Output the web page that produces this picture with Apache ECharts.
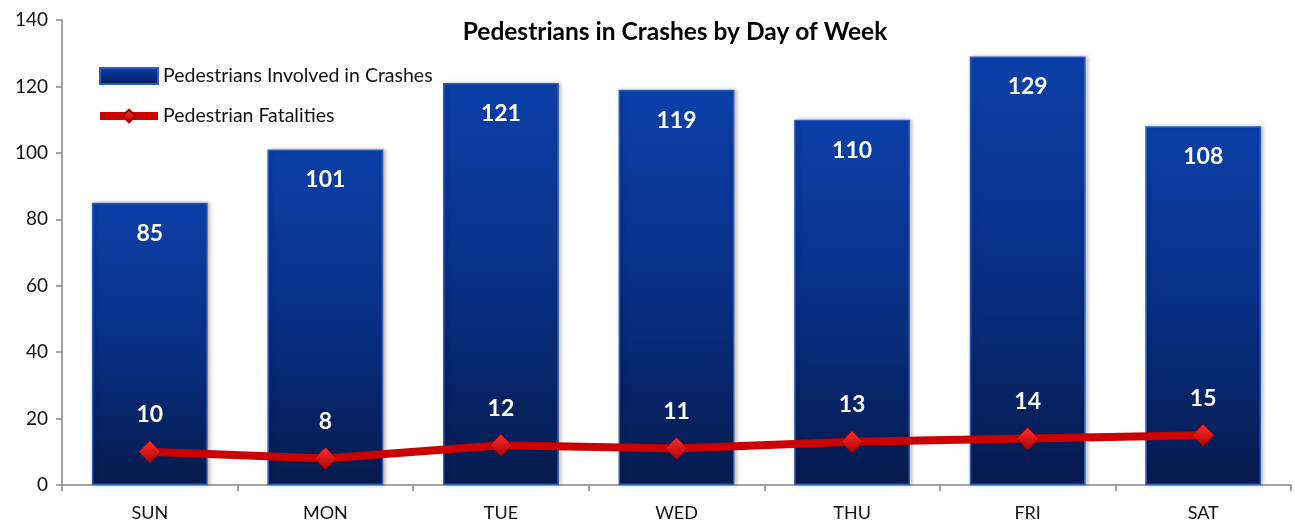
<!DOCTYPE html>
<html>
<head>
<meta charset="utf-8">
<script src="https://cdn.jsdelivr.net/npm/echarts@6/dist/echarts.min.js"></script>
<style>
  html, body { margin: 0; padding: 0; background: #fff; }
  #chart { width: 1295px; height: 525px; }
</style>
</head>
<body>
<div id="chart"></div>
<script>
  const days = ['SUN', 'MON', 'TUE', 'WED', 'THU', 'FRI', 'SAT'];
  const pedestriansInvolved = [85, 101, 121, 119, 110, 129, 108];
  const pedestrianFatalities = [10, 8, 12, 11, 13, 14, 15];

  const chart = echarts.init(document.getElementById('chart'));
  const font = 'Lato, "Open Sans", sans-serif';

  chart.setOption({
    animation: false,
    title: {
      text: 'Pedestrians in Crashes by Day of Week',
      left: 670,
      top: 15,
      textAlign: 'center',
      textStyle: { fontFamily: font, fontSize: 24.5, fontWeight: 'bold', color: '#000' }
    },
    legend: {
      orient: 'vertical',
      left: 91,
      top: 61,
      itemWidth: 58,
      itemHeight: 16,
      itemGap: 20,
      textStyle: { fontFamily: font, fontSize: 19.5, color: '#111' },
      data: [
        { name: 'Pedestrians Involved in Crashes', icon: 'rect' },
        { name: 'Pedestrian Fatalities', lineStyle: { width: 8, color: '#cc0000' } }
      ]
    },
    grid: { left: 62, right: 4, top: 20, bottom: 40 },
    xAxis: {
      type: 'category',
      data: days,
      axisLine: { lineStyle: { color: '#868686', width: 1.5 } },
      axisTick: { show: true, length: 6, lineStyle: { color: '#868686', width: 1.5 } },
      axisLabel: { fontFamily: font, fontSize: 18, color: '#111', margin: 19 }
    },
    yAxis: {
      type: 'value',
      min: 0,
      max: 140,
      interval: 20,
      splitLine: { show: false },
      axisLine: { show: true, lineStyle: { color: '#868686', width: 1.5 } },
      axisTick: { show: true, length: 6, lineStyle: { color: '#868686', width: 1.5 } },
      axisLabel: { fontFamily: font, fontSize: 19, color: '#111', margin: 14 }
    },
    series: [
      {
        name: 'Pedestrians Involved in Crashes',
        type: 'bar',
        data: pedestriansInvolved,
        barCategoryGap: '34%',
        itemStyle: {
          color: new echarts.graphic.LinearGradient(0, 0, 0, 1, [
            { offset: 0, color: '#0b40a8' },
            { offset: 0.5, color: '#082f85' },
            { offset: 1, color: '#061a4c' }
          ]),
          borderColor: '#2a5cc6',
          borderWidth: 1.5,
          shadowColor: 'rgba(0,0,0,0.25)',
          shadowBlur: 4,
          shadowOffsetX: 2
        },
        label: {
          show: true,
          position: 'insideTop',
          distance: 19,
          fontFamily: font,
          fontSize: 23,
          fontWeight: 'bold',
          color: '#fff'
        }
      },
      {
        name: 'Pedestrian Fatalities',
        type: 'line',
        data: pedestrianFatalities,
        symbol: 'diamond',
        symbolSize: 22,
        lineStyle: { color: '#cc0000', width: 8 },
        itemStyle: {
          color: new echarts.graphic.LinearGradient(0, 0, 0, 1, [
            { offset: 0, color: '#ff3030' },
            { offset: 1, color: '#b00000' }
          ]),
          borderColor: '#a00000',
          borderWidth: 1
        },
        label: {
          show: true,
          position: 'top',
          distance: 14,
          fontFamily: font,
          fontSize: 23,
          fontWeight: 'bold',
          color: '#fff'
        }
      }
    ]
  });
</script>
</body>
</html>
